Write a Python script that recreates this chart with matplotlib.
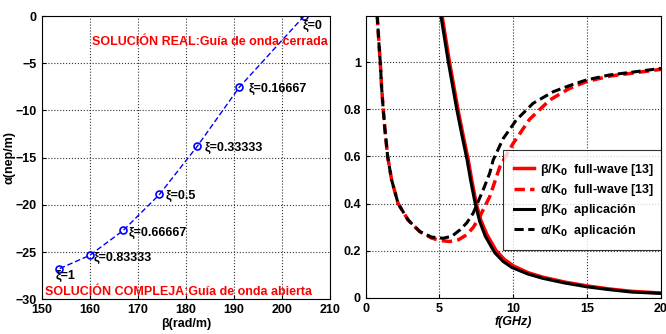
import numpy as np
import matplotlib
matplotlib.use("Agg")
import matplotlib.pyplot as plt

plt.rcParams['font.family'] = ['Liberation Sans', 'DejaVu Sans']
plt.rcParams['font.weight'] = 'bold'

# left panel: complex propagation constant vs xi
beta_pts = [204.6, 191.1, 182.4, 174.5, 167.0, 160.0, 153.5]
alpha_pts = [0.0, -7.55, -13.77, -18.9, -22.7, -25.35, -26.8]
xi_labels = ['ξ=0', 'ξ=0.16667', 'ξ=0.33333', 'ξ=0.5', 'ξ=0.66667', 'ξ=0.83333', 'ξ=1']

# right panel: normalised curves vs frequency
f_a_fw = [0.78, 0.9, 0.99, 1.08, 1.19, 1.31, 1.49, 1.76, 2.2, 2.88, 3.67, 4.46, 5.0, 5.7, 6.3, 6.83,
          7.3, 7.73, 8.41, 9.09, 9.99, 11.1, 12.47, 13.8, 14.95, 16.5, 18.3, 20.0]
a_fw = [1.2, 1.08, 1.0, 0.895, 0.80, 0.712, 0.60, 0.50, 0.40, 0.33, 0.281, 0.254, 0.244, 0.239, 0.247, 0.267,
        0.30, 0.345, 0.43, 0.556, 0.655, 0.757, 0.839, 0.888, 0.917, 0.94, 0.955, 0.969]
f_a_ap = [0.78, 0.9, 0.99, 1.08, 1.19, 1.31, 1.49, 1.76, 2.2, 2.88, 3.67, 4.46, 5.25, 5.85, 6.38, 6.85,
          7.28, 7.96, 8.41, 8.64, 9.31, 10.2, 11.34, 12.7, 13.8, 14.95, 16.5, 18.3, 20.0]
a_ap = [1.2, 1.08, 1.0, 0.895, 0.80, 0.712, 0.60, 0.50, 0.40, 0.33, 0.281, 0.258, 0.253, 0.262, 0.288, 0.318,
        0.359, 0.458, 0.53, 0.585, 0.675, 0.754, 0.825, 0.874, 0.90, 0.924, 0.945, 0.959, 0.973]
f_b_fw = [5.18, 5.68, 6.25, 6.6, 6.95, 7.2, 7.49, 7.8, 8.2, 8.84, 9.4, 10.0, 11.0, 12.0, 13.5, 15.0, 16.5, 18.0, 20.0]
b_fw = [1.195, 1.0, 0.80, 0.69, 0.585, 0.495, 0.40, 0.33, 0.27, 0.20, 0.163, 0.136, 0.107, 0.088, 0.067, 0.051, 0.038, 0.028, 0.021]
f_b_ap = [5.1, 5.6, 6.17, 6.52, 6.87, 7.12, 7.42, 7.72, 8.1, 8.74, 9.3, 9.9, 11.0, 12.0, 13.5, 15.0, 16.5, 18.0, 20.0]
b_ap = [1.195, 1.0, 0.80, 0.69, 0.585, 0.495, 0.40, 0.325, 0.262, 0.192, 0.155, 0.129, 0.101, 0.083, 0.063, 0.047, 0.035, 0.025, 0.019]

fig = plt.figure(figsize=(6.66, 3.34), dpi=100)
ax1 = fig.add_axes([0.0626, 0.104, 0.433, 0.848])
ax2 = fig.add_axes([0.549, 0.108, 0.4434, 0.844])

for ax in (ax1, ax2):
    ax.grid(True, linestyle=':', color='#333333', linewidth=0.8)
    ax.tick_params(direction='in', labelsize=9, length=3, width=0.8)
    for s in ax.spines.values():
        s.set_linewidth(0.8)

# ---- left
ax1.plot(beta_pts, alpha_pts, '--', color='blue', linewidth=1.0, dashes=(4, 2),
         marker='o', markersize=5, markerfacecolor='none', markeredgecolor='blue', markeredgewidth=1.2)
ax1.set_xlim(150, 210)
ax1.set_ylim(-30, 0)
ax1.set_xticks(range(150, 211, 10))
ax1.set_yticks(range(-30, 1, 5))
ax1.set_xlabel('β(rad/m)', fontsize=9, fontweight='bold', labelpad=1)
ax1.set_ylabel('α(nep/m)', fontsize=9, fontweight='bold', labelpad=0)

offs = [(-0.3, -1.1), (2.0, -0.2), (1.6, -0.2), (1.3, -0.2), (1.0, -0.3), (0.9, -0.3), (-0.6, -0.75)]
for b, a, lab, (dx, dy) in zip(beta_pts, alpha_pts, xi_labels, offs):
    ax1.text(b + dx, a + dy, lab, fontsize=9, fontweight='bold', va='center')
ax1.text(209.5, -2.8, 'SOLUCIÓN REAL:Guía de onda cerrada', color='red', fontsize=9,
         fontweight='bold', ha='right', va='center')
ax1.text(150.7, -29.25, 'SOLUCIÓN COMPLEJA:Guía de onda abierta', color='red', fontsize=9,
         fontweight='bold', ha='left', va='center')

# ---- right
ax2.plot(f_b_fw, b_fw, '-', color='red', linewidth=2.5, solid_joinstyle='round', label='β/K$_0$  full-wave [13]')
ax2.plot(f_a_fw, a_fw, '--', color='red', linewidth=2.5, dashes=(3, 1.5), label='α/K$_0$  full-wave [13]')
ax2.plot(f_b_ap, b_ap, '-', color='black', linewidth=2.2, solid_joinstyle='round', label='β/K$_0$  aplicación')
ax2.plot(f_a_ap, a_ap, '--', color='black', linewidth=2.2, dashes=(3, 1.5), label='α/K$_0$  aplicación')
ax2.set_xlim(0, 20)
ax2.set_ylim(0, 1.195)
ax2.set_xticks([0, 5, 10, 15, 20])
ax2.set_yticks([0, 0.2, 0.4, 0.6, 0.8, 1])
ax2.set_yticklabels(['0', '0.2', '0.4', '0.6', '0.8', '1'])
ax2.set_xlabel('f(GHz)', fontsize=9, fontweight='bold', style='italic', labelpad=1)
leg = ax2.legend(loc='lower left', bbox_to_anchor=(0.465, 0.17, 0.535, 0.348), mode='expand',
                 fontsize=9, frameon=True, fancybox=False, edgecolor='black',
                 handlelength=1.6, handletextpad=0.5, borderaxespad=0, borderpad=0.9,
                 labelspacing=0.35)
leg.get_frame().set_linewidth(0.8)

fig.savefig('out.png', dpi=100)
